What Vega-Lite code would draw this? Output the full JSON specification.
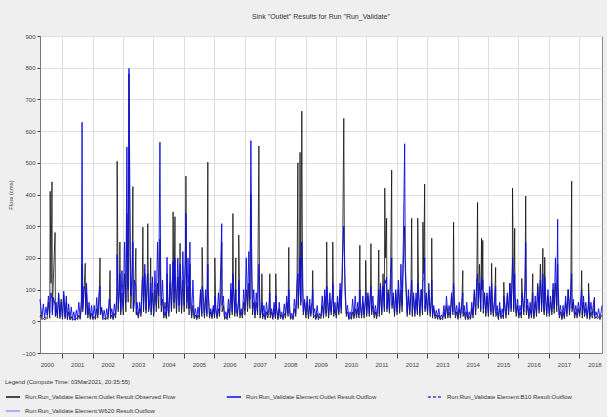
{
"$schema": "https://vega.github.io/schema/vega-lite/v6.json",
"width": 562, "height": 317,
"autosize": {"type": "none"},
"padding": {"left": 40, "top": 36, "right": 5, "bottom": 64},
"background": "#efefef",
"title": {"text": "Sink \"Outlet\" Results for Run \"Run_Validate\"", "fontSize": 7, "fontWeight": "normal", "font": "Liberation Sans", "color": "#333", "offset": 13},
"config": {"view": {"fill": "white", "stroke": "#888"}, "font": "Liberation Sans",
  "axisY": {"labelOverlap": false, "labelFontSize": 6, "labelColor": "#444", "titleFontSize": 6, "titleFontWeight": "normal", "titleColor": "#444", "titlePadding": 8, "tickSize": 3, "tickColor": "#444", "domainColor": "#777", "grid": true, "gridColor": "#dedede"}},
"data": {"values": [
{"t":"2000-04-10","o":15,"s":70},{"t":"2000-04-20","o":20,"s":45},{"t":"2000-05-05","o":5,"s":12},{"t":"2000-05-20","o":10,"s":55},{"t":"2000-06-05","o":4,"s":10},{"t":"2000-06-20","o":12,"s":45},{"t":"2000-07-05","o":8,"s":20},{"t":"2000-07-20","o":60,"s":80},{"t":"2000-08-05","o":10,"s":25},{"t":"2000-08-10","o":410,"s":60},{"t":"2000-08-20","o":120,"s":90},{"t":"2000-09-01","o":440,"s":70},{"t":"2000-09-05","o":30,"s":20},{"t":"2000-09-20","o":150,"s":75},{"t":"2000-10-08","o":280,"s":50},{"t":"2000-10-12","o":20,"s":15},{"t":"2000-10-20","o":40,"s":60},{"t":"2000-11-05","o":10,"s":18},{"t":"2000-11-20","o":90,"s":85},{"t":"2000-12-05","o":8,"s":15},{"t":"2000-12-20","o":70,"s":60},
{"t":"2001-01-05","o":6,"s":12},{"t":"2001-01-20","o":85,"s":95},{"t":"2001-02-05","o":8,"s":15},{"t":"2001-02-20","o":60,"s":80},{"t":"2001-03-05","o":5,"s":10},{"t":"2001-03-20","o":30,"s":55},{"t":"2001-04-05","o":4,"s":8},{"t":"2001-04-20","o":15,"s":45},{"t":"2001-05-05","o":3,"s":6},{"t":"2001-05-20","o":8,"s":30},{"t":"2001-06-05","o":3,"s":5},{"t":"2001-06-20","o":10,"s":35},{"t":"2001-07-05","o":5,"s":10},{"t":"2001-07-20","o":20,"s":60},{"t":"2001-08-05","o":6,"s":12},{"t":"2001-08-20","o":40,"s":70},{"t":"2001-08-28","o":180,"s":628},{"t":"2001-09-05","o":30,"s":40},{"t":"2001-09-20","o":90,"s":110},{"t":"2001-10-05","o":183,"s":100},{"t":"2001-10-10","o":20,"s":25},{"t":"2001-10-20","o":90,"s":120},{"t":"2001-11-05","o":10,"s":20},{"t":"2001-11-20","o":40,"s":60},{"t":"2001-12-05","o":6,"s":12},{"t":"2001-12-20","o":25,"s":50},
{"t":"2002-01-05","o":5,"s":10},{"t":"2002-01-20","o":15,"s":50},{"t":"2002-02-05","o":6,"s":12},{"t":"2002-02-20","o":40,"s":75},{"t":"2002-03-05","o":10,"s":20},{"t":"2002-03-20","o":60,"s":90},{"t":"2002-04-01","o":200,"s":110},{"t":"2002-04-05","o":20,"s":25},{"t":"2002-04-20","o":40,"s":45},{"t":"2002-05-05","o":5,"s":10},{"t":"2002-05-20","o":10,"s":35},{"t":"2002-06-05","o":4,"s":8},{"t":"2002-06-20","o":12,"s":40},{"t":"2002-07-05","o":6,"s":12},{"t":"2002-07-20","o":50,"s":70},{"t":"2002-07-30","o":160,"s":50},{"t":"2002-08-05","o":8,"s":15},{"t":"2002-08-20","o":20,"s":40},{"t":"2002-09-05","o":5,"s":10},{"t":"2002-09-20","o":25,"s":55},{"t":"2002-10-05","o":10,"s":20},{"t":"2002-10-20","o":90,"s":80},{"t":"2002-10-23","o":505,"s":210},{"t":"2002-11-05","o":30,"s":40},{"t":"2002-11-20","o":120,"s":100},{"t":"2002-11-25","o":250,"s":150},{"t":"2002-12-05","o":20,"s":30},{"t":"2002-12-20","o":90,"s":160},
{"t":"2003-01-05","o":20,"s":40},{"t":"2003-01-20","o":150,"s":250},{"t":"2003-02-05","o":30,"s":60},{"t":"2003-02-17","o":340,"s":550},{"t":"2003-02-25","o":120,"s":200},{"t":"2003-03-05","o":60,"s":100},{"t":"2003-03-14","o":780,"s":798},{"t":"2003-03-25","o":220,"s":400},{"t":"2003-04-05","o":40,"s":80},{"t":"2003-04-20","o":120,"s":150},{"t":"2003-04-30","o":425,"s":250},{"t":"2003-05-05","o":30,"s":40},{"t":"2003-05-20","o":60,"s":130},{"t":"2003-06-05","o":230,"s":110},{"t":"2003-06-10","o":20,"s":25},{"t":"2003-06-20","o":30,"s":60},{"t":"2003-07-05","o":10,"s":15},{"t":"2003-07-20","o":40,"s":60},{"t":"2003-08-05","o":15,"s":25},{"t":"2003-08-20","o":90,"s":130},{"t":"2003-08-28","o":297,"s":140},{"t":"2003-09-05","o":30,"s":40},{"t":"2003-09-20","o":150,"s":180},{"t":"2003-10-05","o":25,"s":35},{"t":"2003-10-20","o":120,"s":140},{"t":"2003-10-26","o":308,"s":150},{"t":"2003-11-05","o":30,"s":40},{"t":"2003-11-20","o":60,"s":70},{"t":"2003-11-30","o":200,"s":120},{"t":"2003-12-05","o":20,"s":30},{"t":"2003-12-20","o":90,"s":140},
{"t":"2004-01-05","o":15,"s":25},{"t":"2004-01-20","o":100,"s":160},{"t":"2004-02-05","o":30,"s":50},{"t":"2004-02-20","o":120,"s":250},{"t":"2004-03-05","o":40,"s":80},{"t":"2004-03-20","o":260,"s":565},{"t":"2004-03-28","o":100,"s":180},{"t":"2004-04-05","o":30,"s":50},{"t":"2004-04-20","o":70,"s":130},{"t":"2004-05-05","o":10,"s":20},{"t":"2004-05-20","o":30,"s":60},{"t":"2004-06-05","o":8,"s":15},{"t":"2004-06-13","o":150,"s":202},{"t":"2004-06-20","o":40,"s":80},{"t":"2004-07-05","o":15,"s":25},{"t":"2004-07-20","o":120,"s":180},{"t":"2004-08-05","o":30,"s":40},{"t":"2004-08-20","o":150,"s":160},{"t":"2004-08-25","o":345,"s":190},{"t":"2004-09-05","o":40,"s":60},{"t":"2004-09-16","o":330,"s":200},{"t":"2004-09-20","o":120,"s":150},{"t":"2004-10-05","o":25,"s":40},{"t":"2004-10-20","o":140,"s":200},{"t":"2004-11-05","o":30,"s":50},{"t":"2004-11-17","o":246,"s":180},{"t":"2004-11-20","o":120,"s":170},{"t":"2004-12-05","o":25,"s":40},{"t":"2004-12-20","o":130,"s":220},
{"t":"2005-01-05","o":30,"s":50},{"t":"2005-01-20","o":180,"s":230},{"t":"2005-01-26","o":458,"s":340},{"t":"2005-02-05","o":40,"s":60},{"t":"2005-02-20","o":110,"s":200},{"t":"2005-03-05","o":20,"s":40},{"t":"2005-03-15","o":180,"s":250},{"t":"2005-03-20","o":60,"s":110},{"t":"2005-04-05","o":10,"s":20},{"t":"2005-04-20","o":50,"s":130},{"t":"2005-05-05","o":8,"s":15},{"t":"2005-05-20","o":20,"s":40},{"t":"2005-06-05","o":5,"s":10},{"t":"2005-06-20","o":20,"s":45},{"t":"2005-07-05","o":8,"s":15},{"t":"2005-07-20","o":90,"s":100},{"t":"2005-08-05","o":15,"s":25},{"t":"2005-08-08","o":233,"s":110},{"t":"2005-08-20","o":70,"s":90},{"t":"2005-09-05","o":10,"s":20},{"t":"2005-09-20","o":80,"s":100},{"t":"2005-10-05","o":15,"s":25},{"t":"2005-10-16","o":502,"s":180},{"t":"2005-10-20","o":100,"s":90},{"t":"2005-11-05","o":10,"s":20},{"t":"2005-11-20","o":30,"s":40},{"t":"2005-12-05","o":8,"s":15},{"t":"2005-12-20","o":40,"s":50},
{"t":"2006-01-05","o":10,"s":20},{"t":"2006-01-08","o":200,"s":80},{"t":"2006-01-20","o":30,"s":40},{"t":"2006-02-05","o":8,"s":15},{"t":"2006-02-20","o":40,"s":90},{"t":"2006-03-05","o":15,"s":25},{"t":"2006-03-20","o":90,"s":180},{"t":"2006-04-01","o":250,"s":308},{"t":"2006-04-05","o":30,"s":50},{"t":"2006-04-20","o":50,"s":80},{"t":"2006-05-05","o":6,"s":12},{"t":"2006-05-20","o":15,"s":30},{"t":"2006-06-05","o":5,"s":10},{"t":"2006-06-20","o":40,"s":70},{"t":"2006-07-05","o":10,"s":20},{"t":"2006-07-20","o":100,"s":120},{"t":"2006-08-05","o":20,"s":30},{"t":"2006-08-13","o":340,"s":150},{"t":"2006-08-20","o":100,"s":110},{"t":"2006-09-05","o":15,"s":25},{"t":"2006-09-17","o":200,"s":100},{"t":"2006-09-20","o":40,"s":60},{"t":"2006-10-05","o":15,"s":25},{"t":"2006-10-20","o":60,"s":70},{"t":"2006-10-22","o":272,"s":130},{"t":"2006-11-05","o":10,"s":20},{"t":"2006-11-20","o":30,"s":40},{"t":"2006-12-05","o":10,"s":20},{"t":"2006-12-20","o":60,"s":100},
{"t":"2007-01-05","o":20,"s":35},{"t":"2007-01-20","o":100,"s":200},{"t":"2007-02-05","o":30,"s":50},{"t":"2007-02-20","o":120,"s":220},{"t":"2007-03-05","o":40,"s":70},{"t":"2007-03-17","o":400,"s":570},{"t":"2007-03-25","o":150,"s":250},{"t":"2007-04-05","o":20,"s":40},{"t":"2007-04-20","o":60,"s":100},{"t":"2007-05-05","o":10,"s":20},{"t":"2007-05-20","o":60,"s":90},{"t":"2007-06-05","o":20,"s":30},{"t":"2007-06-21","o":553,"s":180},{"t":"2007-06-28","o":120,"s":90},{"t":"2007-07-05","o":10,"s":20},{"t":"2007-07-20","o":30,"s":40},{"t":"2007-07-27","o":150,"s":60},{"t":"2007-08-05","o":8,"s":15},{"t":"2007-08-20","o":25,"s":50},{"t":"2007-09-05","o":5,"s":10},{"t":"2007-09-20","o":30,"s":60},{"t":"2007-10-05","o":10,"s":20},{"t":"2007-10-20","o":25,"s":40},{"t":"2007-10-30","o":150,"s":90},{"t":"2007-11-05","o":10,"s":20},{"t":"2007-11-20","o":30,"s":40},{"t":"2007-12-05","o":6,"s":12},{"t":"2007-12-20","o":40,"s":60},
{"t":"2008-01-05","o":8,"s":15},{"t":"2008-01-10","o":150,"s":80},{"t":"2008-01-20","o":30,"s":40},{"t":"2008-02-05","o":5,"s":10},{"t":"2008-02-20","o":40,"s":60},{"t":"2008-03-05","o":8,"s":15},{"t":"2008-03-20","o":20,"s":30},{"t":"2008-04-05","o":5,"s":10},{"t":"2008-04-20","o":25,"s":55},{"t":"2008-05-05","o":10,"s":20},{"t":"2008-05-20","o":60,"s":80},{"t":"2008-06-05","o":15,"s":25},{"t":"2008-06-14","o":233,"s":100},{"t":"2008-06-20","o":40,"s":60},{"t":"2008-07-05","o":6,"s":12},{"t":"2008-07-20","o":15,"s":25},{"t":"2008-08-05","o":5,"s":10},{"t":"2008-08-20","o":40,"s":70},{"t":"2008-09-05","o":15,"s":25},{"t":"2008-09-20","o":90,"s":120},{"t":"2008-10-01","o":500,"s":150},{"t":"2008-10-05","o":40,"s":50},{"t":"2008-10-20","o":150,"s":130},{"t":"2008-10-27","o":533,"s":200},{"t":"2008-11-05","o":50,"s":60},{"t":"2008-11-17","o":663,"s":250},{"t":"2008-11-25","o":200,"s":120},{"t":"2008-12-05","o":20,"s":30},{"t":"2008-12-20","o":60,"s":70},
{"t":"2009-01-05","o":10,"s":20},{"t":"2009-01-20","o":60,"s":80},{"t":"2009-02-05","o":8,"s":15},{"t":"2009-02-20","o":50,"s":70},{"t":"2009-03-05","o":15,"s":25},{"t":"2009-03-20","o":40,"s":60},{"t":"2009-03-28","o":160,"s":100},{"t":"2009-04-05","o":10,"s":20},{"t":"2009-04-20","o":20,"s":40},{"t":"2009-05-05","o":5,"s":10},{"t":"2009-05-20","o":25,"s":50},{"t":"2009-06-05","o":5,"s":10},{"t":"2009-06-20","o":15,"s":25},{"t":"2009-07-05","o":8,"s":15},{"t":"2009-07-20","o":50,"s":80},{"t":"2009-08-05","o":10,"s":20},{"t":"2009-08-20","o":80,"s":100},{"t":"2009-09-05","o":15,"s":25},{"t":"2009-09-12","o":250,"s":110},{"t":"2009-09-20","o":70,"s":90},{"t":"2009-10-05","o":10,"s":20},{"t":"2009-10-20","o":60,"s":90},{"t":"2009-11-05","o":20,"s":30},{"t":"2009-11-20","o":90,"s":80},{"t":"2009-11-24","o":250,"s":120},{"t":"2009-12-05","o":15,"s":25},{"t":"2009-12-20","o":40,"s":60},
{"t":"2010-01-05","o":10,"s":20},{"t":"2010-01-20","o":60,"s":80},{"t":"2010-02-05","o":20,"s":30},{"t":"2010-02-20","o":100,"s":120},{"t":"2010-03-05","o":25,"s":40},{"t":"2010-03-20","o":150,"s":200},{"t":"2010-04-05","o":640,"s":300},{"t":"2010-04-12","o":250,"s":200},{"t":"2010-04-20","o":90,"s":120},{"t":"2010-05-05","o":15,"s":25},{"t":"2010-05-20","o":30,"s":50},{"t":"2010-06-05","o":5,"s":10},{"t":"2010-06-20","o":15,"s":30},{"t":"2010-07-05","o":6,"s":12},{"t":"2010-07-20","o":30,"s":70},{"t":"2010-08-05","o":8,"s":15},{"t":"2010-08-20","o":40,"s":80},{"t":"2010-09-05","o":10,"s":20},{"t":"2010-09-20","o":40,"s":60},{"t":"2010-10-05","o":10,"s":20},{"t":"2010-10-15","o":240,"s":100},{"t":"2010-10-20","o":50,"s":60},{"t":"2010-11-05","o":10,"s":20},{"t":"2010-11-20","o":60,"s":80},{"t":"2010-12-05","o":10,"s":20},{"t":"2010-12-20","o":60,"s":70},{"t":"2010-12-24","o":192,"s":90},
{"t":"2011-01-05","o":15,"s":25},{"t":"2011-01-20","o":80,"s":90},{"t":"2011-02-05","o":15,"s":25},{"t":"2011-02-20","o":90,"s":100},{"t":"2011-02-25","o":245,"s":110},{"t":"2011-03-05","o":20,"s":30},{"t":"2011-03-20","o":50,"s":80},{"t":"2011-04-05","o":10,"s":20},{"t":"2011-04-20","o":30,"s":50},{"t":"2011-05-05","o":8,"s":15},{"t":"2011-05-20","o":40,"s":60},{"t":"2011-05-30","o":225,"s":100},{"t":"2011-06-05","o":15,"s":25},{"t":"2011-06-20","o":100,"s":120},{"t":"2011-07-05","o":20,"s":30},{"t":"2011-07-20","o":150,"s":110},{"t":"2011-08-05","o":30,"s":40},{"t":"2011-08-10","o":420,"s":130},{"t":"2011-08-20","o":200,"s":120},{"t":"2011-09-01","o":325,"s":140},{"t":"2011-09-05","o":30,"s":40},{"t":"2011-09-20","o":100,"s":90},{"t":"2011-10-05","o":25,"s":35},{"t":"2011-10-20","o":180,"s":130},{"t":"2011-11-01","o":477,"s":200},{"t":"2011-11-05","o":40,"s":50},{"t":"2011-11-20","o":80,"s":90},{"t":"2011-12-05","o":15,"s":25},{"t":"2011-12-20","o":90,"s":100},
{"t":"2012-01-05","o":20,"s":30},{"t":"2012-01-20","o":100,"s":130},{"t":"2012-02-05","o":25,"s":40},{"t":"2012-02-20","o":100,"s":180},{"t":"2012-03-05","o":30,"s":50},{"t":"2012-03-20","o":180,"s":250},{"t":"2012-04-05","o":300,"s":560},{"t":"2012-04-12","o":160,"s":200},{"t":"2012-04-20","o":100,"s":130},{"t":"2012-05-05","o":15,"s":25},{"t":"2012-05-20","o":80,"s":100},{"t":"2012-06-05","o":20,"s":30},{"t":"2012-06-20","o":100,"s":90},{"t":"2012-06-28","o":325,"s":130},{"t":"2012-07-05","o":15,"s":25},{"t":"2012-07-20","o":80,"s":90},{"t":"2012-08-05","o":15,"s":25},{"t":"2012-08-20","o":70,"s":90},{"t":"2012-09-05","o":20,"s":30},{"t":"2012-09-09","o":325,"s":120},{"t":"2012-09-20","o":80,"s":90},{"t":"2012-10-05","o":15,"s":25},{"t":"2012-10-20","o":100,"s":100},{"t":"2012-11-05","o":20,"s":30},{"t":"2012-11-10","o":313,"s":130},{"t":"2012-11-20","o":150,"s":130},{"t":"2012-12-01","o":433,"s":200},{"t":"2012-12-05","o":30,"s":40},{"t":"2012-12-20","o":80,"s":90},
{"t":"2013-01-05","o":20,"s":30},{"t":"2013-01-20","o":120,"s":100},{"t":"2013-02-05","o":15,"s":25},{"t":"2013-02-20","o":60,"s":80},{"t":"2013-02-24","o":262,"s":130},{"t":"2013-03-05","o":10,"s":20},{"t":"2013-03-20","o":40,"s":50},{"t":"2013-04-05","o":8,"s":15},{"t":"2013-04-20","o":20,"s":35},{"t":"2013-05-05","o":6,"s":12},{"t":"2013-05-20","o":20,"s":40},{"t":"2013-06-05","o":4,"s":8},{"t":"2013-06-20","o":10,"s":20},{"t":"2013-07-05","o":5,"s":10},{"t":"2013-07-20","o":30,"s":50},{"t":"2013-08-05","o":8,"s":15},{"t":"2013-08-20","o":50,"s":80},{"t":"2013-09-05","o":10,"s":20},{"t":"2013-09-20","o":30,"s":50},{"t":"2013-10-05","o":10,"s":20},{"t":"2013-10-20","o":80,"s":90},{"t":"2013-11-05","o":20,"s":30},{"t":"2013-11-13","o":313,"s":120},{"t":"2013-11-20","o":60,"s":80},{"t":"2013-12-05","o":10,"s":20},{"t":"2013-12-20","o":30,"s":50},
{"t":"2014-01-05","o":6,"s":12},{"t":"2014-01-20","o":40,"s":60},{"t":"2014-02-05","o":10,"s":20},{"t":"2014-02-20","o":50,"s":60},{"t":"2014-03-04","o":160,"s":90},{"t":"2014-03-07","o":15,"s":25},{"t":"2014-03-20","o":30,"s":50},{"t":"2014-04-05","o":5,"s":10},{"t":"2014-04-20","o":30,"s":60},{"t":"2014-05-05","o":5,"s":10},{"t":"2014-05-20","o":15,"s":30},{"t":"2014-06-05","o":6,"s":12},{"t":"2014-06-20","o":40,"s":60},{"t":"2014-07-05","o":10,"s":20},{"t":"2014-07-20","o":90,"s":100},{"t":"2014-08-05","o":20,"s":30},{"t":"2014-08-20","o":150,"s":120},{"t":"2014-08-28","o":375,"s":150},{"t":"2014-09-05","o":40,"s":50},{"t":"2014-09-20","o":180,"s":120},{"t":"2014-10-05","o":30,"s":40},{"t":"2014-10-15","o":262,"s":140},{"t":"2014-10-20","o":100,"s":100},{"t":"2014-10-30","o":255,"s":130},{"t":"2014-11-05","o":25,"s":40},{"t":"2014-11-20","o":90,"s":90},{"t":"2014-12-05","o":15,"s":25},{"t":"2014-12-20","o":80,"s":90},
{"t":"2015-01-05","o":15,"s":25},{"t":"2015-01-20","o":100,"s":110},{"t":"2015-02-05","o":20,"s":30},{"t":"2015-02-13","o":183,"s":120},{"t":"2015-02-20","o":60,"s":80},{"t":"2015-03-05","o":15,"s":25},{"t":"2015-03-20","o":60,"s":70},{"t":"2015-04-02","o":170,"s":110},{"t":"2015-04-05","o":15,"s":25},{"t":"2015-04-20","o":30,"s":50},{"t":"2015-05-05","o":5,"s":10},{"t":"2015-05-20","o":40,"s":60},{"t":"2015-06-05","o":8,"s":15},{"t":"2015-06-20","o":20,"s":40},{"t":"2015-07-05","o":8,"s":15},{"t":"2015-07-09","o":123,"s":80},{"t":"2015-07-20","o":40,"s":60},{"t":"2015-08-05","o":10,"s":20},{"t":"2015-08-20","o":80,"s":90},{"t":"2015-09-05","o":20,"s":30},{"t":"2015-09-20","o":120,"s":120},{"t":"2015-10-05","o":30,"s":40},{"t":"2015-10-20","o":180,"s":150},{"t":"2015-10-22","o":420,"s":200},{"t":"2015-11-05","o":30,"s":40},{"t":"2015-11-17","o":293,"s":150},{"t":"2015-11-20","o":80,"s":90},{"t":"2015-12-05","o":15,"s":25},{"t":"2015-12-20","o":50,"s":70},
{"t":"2016-01-05","o":10,"s":20},{"t":"2016-01-20","o":30,"s":50},{"t":"2016-02-05","o":10,"s":20},{"t":"2016-02-10","o":135,"s":90},{"t":"2016-02-20","o":60,"s":80},{"t":"2016-03-05","o":20,"s":30},{"t":"2016-03-20","o":100,"s":120},{"t":"2016-03-28","o":395,"s":250},{"t":"2016-04-05","o":20,"s":30},{"t":"2016-04-20","o":50,"s":70},{"t":"2016-05-05","o":8,"s":15},{"t":"2016-05-20","o":40,"s":60},{"t":"2016-06-05","o":10,"s":20},{"t":"2016-06-21","o":150,"s":90},{"t":"2016-06-25","o":30,"s":40},{"t":"2016-07-05","o":8,"s":15},{"t":"2016-07-20","o":60,"s":80},{"t":"2016-08-05","o":15,"s":25},{"t":"2016-08-20","o":120,"s":110},{"t":"2016-09-05","o":25,"s":35},{"t":"2016-09-20","o":180,"s":130},{"t":"2016-10-05","o":30,"s":40},{"t":"2016-10-20","o":230,"s":150},{"t":"2016-10-25","o":60,"s":70},{"t":"2016-11-05","o":20,"s":30},{"t":"2016-11-11","o":202,"s":140},{"t":"2016-11-20","o":80,"s":90},{"t":"2016-12-05","o":15,"s":25},{"t":"2016-12-20","o":80,"s":100},
{"t":"2017-01-05","o":15,"s":25},{"t":"2017-01-20","o":60,"s":80},{"t":"2017-02-05","o":20,"s":30},{"t":"2017-02-20","o":100,"s":120},{"t":"2017-03-05","o":25,"s":40},{"t":"2017-03-20","o":120,"s":200},{"t":"2017-04-05","o":30,"s":50},{"t":"2017-04-16","o":180,"s":322},{"t":"2017-04-20","o":80,"s":120},{"t":"2017-05-05","o":10,"s":20},{"t":"2017-05-20","o":30,"s":50},{"t":"2017-06-05","o":5,"s":10},{"t":"2017-06-20","o":30,"s":50},{"t":"2017-07-05","o":8,"s":15},{"t":"2017-07-20","o":60,"s":80},{"t":"2017-08-05","o":15,"s":25},{"t":"2017-08-20","o":100,"s":100},{"t":"2017-09-05","o":20,"s":30},{"t":"2017-09-20","o":90,"s":100},{"t":"2017-10-01","o":442,"s":150},{"t":"2017-10-05","o":30,"s":40},{"t":"2017-10-20","o":60,"s":70},{"t":"2017-11-05","o":10,"s":20},{"t":"2017-11-20","o":30,"s":50},{"t":"2017-12-05","o":10,"s":20},{"t":"2017-12-20","o":40,"s":60},
{"t":"2018-01-05","o":15,"s":25},{"t":"2018-01-20","o":50,"s":70},{"t":"2018-01-29","o":160,"s":100},{"t":"2018-02-05","o":10,"s":20},{"t":"2018-02-20","o":60,"s":80},{"t":"2018-03-05","o":15,"s":25},{"t":"2018-03-20","o":40,"s":60},{"t":"2018-04-05","o":8,"s":15},{"t":"2018-04-20","o":40,"s":60},{"t":"2018-04-22","o":120,"s":90},{"t":"2018-05-05","o":6,"s":12},{"t":"2018-05-20","o":30,"s":60},{"t":"2018-06-05","o":10,"s":20},{"t":"2018-06-20","o":30,"s":60},{"t":"2018-07-01","o":76,"s":70},{"t":"2018-07-05","o":8,"s":15},{"t":"2018-07-20","o":15,"s":30},{"t":"2018-08-05","o":8,"s":15},{"t":"2018-08-20","o":15,"s":40},{"t":"2018-09-05","o":5,"s":10},{"t":"2018-09-20","o":15,"s":30},{"t":"2018-09-30","o":20,"s":50}
]},
"encoding": {
  "x": {"field": "t", "type": "temporal",
    "scale": {"domain": [{"year":2000,"month":4,"date":10},{"year":2018,"month":9,"date":30}]},
    "axis": {"title": null,
      "values": [{"year":2000,"month":7,"date":1},{"year":2001,"month":1,"date":1},{"year":2001,"month":7,"date":1},{"year":2002,"month":1,"date":1},{"year":2002,"month":7,"date":1},{"year":2003,"month":1,"date":1},{"year":2003,"month":7,"date":1},{"year":2004,"month":1,"date":1},{"year":2004,"month":7,"date":1},{"year":2005,"month":1,"date":1},{"year":2005,"month":7,"date":1},{"year":2006,"month":1,"date":1},{"year":2006,"month":7,"date":1},{"year":2007,"month":1,"date":1},{"year":2007,"month":7,"date":1},{"year":2008,"month":1,"date":1},{"year":2008,"month":7,"date":1},{"year":2009,"month":1,"date":1},{"year":2009,"month":7,"date":1},{"year":2010,"month":1,"date":1},{"year":2010,"month":7,"date":1},{"year":2011,"month":1,"date":1},{"year":2011,"month":7,"date":1},{"year":2012,"month":1,"date":1},{"year":2012,"month":7,"date":1},{"year":2013,"month":1,"date":1},{"year":2013,"month":7,"date":1},{"year":2014,"month":1,"date":1},{"year":2014,"month":7,"date":1},{"year":2015,"month":1,"date":1},{"year":2015,"month":7,"date":1},{"year":2016,"month":1,"date":1},{"year":2016,"month":7,"date":1},{"year":2017,"month":1,"date":1},{"year":2017,"month":7,"date":1},{"year":2018,"month":1,"date":1},{"year":2018,"month":7,"date":1}],
      "labelExpr": "month(datum.value) == 6 ? timeFormat(datum.value, '%Y') : ''",
      "labelFontSize": 6, "labelColor": "#444", "labelPadding": 3, "labelOverlap": false,
      "tickSize": 5, "tickColor": "#444", "domainColor": "#777",
      "tickOpacity": {"condition": {"test": "month(datum.value) == 0", "value": 1}, "value": 0},
      "gridOpacity": {"condition": {"test": "month(datum.value) == 0", "value": 1}, "value": 0},
      "grid": true, "gridColor": "#dedede"}}
},
"layer": [
  {"mark": {"type": "line", "strokeWidth": 0.8, "interpolate": "linear"},
   "encoding": {
     "y": {"field": "o", "type": "quantitative",
       "scale": {"domain": [-100, 900], "nice": false},
       "axis": {"title": "Flow (cms)", "values": [-100,0,100,200,300,400,500,600,700,800,900]}},
     "color": {"datum": "Run:Run_Validate Element:Outlet Result:Observed Flow", "type": "nominal",
       "scale": {"domain": ["Run:Run_Validate Element:Outlet Result:Observed Flow", "Run:Run_Validate Element:Outlet Result:Outflow", "Run:Run_Validate Element:B10 Result:Outflow", "Run:Run_Validate Element:W620 Result:Outflow"],
                 "range": ["#111111", "#0a0ae6", "#3a3af0", "#8c9cff"]},
       "legend": {"title": "Legend (Compute Time: 03Mar2021, 20:35:55)", "orient": "none", "legendX": -35, "legendY": 343,
         "direction": "horizontal", "columns": 3, "symbolType": "stroke", "symbolSize": 200, "symbolStrokeWidth": 1.5,
         "labelFontSize": 6, "labelColor": "#333", "titleFontSize": 6, "titleFontWeight": "normal", "titleColor": "#333",
         "titlePadding": 4, "rowPadding": 3, "columnPadding": 47, "labelLimit": 300,
         "encode": {"symbols": {"update": {"strokeDash": {"signal": "datum.value == 'Run:Run_Validate Element:B10 Result:Outflow' ? [3,2] : [1,0]"}}}}}}
   }},
  {"mark": {"type": "line", "strokeWidth": 0.9, "interpolate": "linear"},
   "encoding": {
     "y": {"field": "s", "type": "quantitative",
       "axis": {"title": "Flow (cms)", "values": [-100,0,100,200,300,400,500,600,700,800,900]}},
     "color": {"datum": "Run:Run_Validate Element:Outlet Result:Outflow", "type": "nominal"}
   }}
]
}
